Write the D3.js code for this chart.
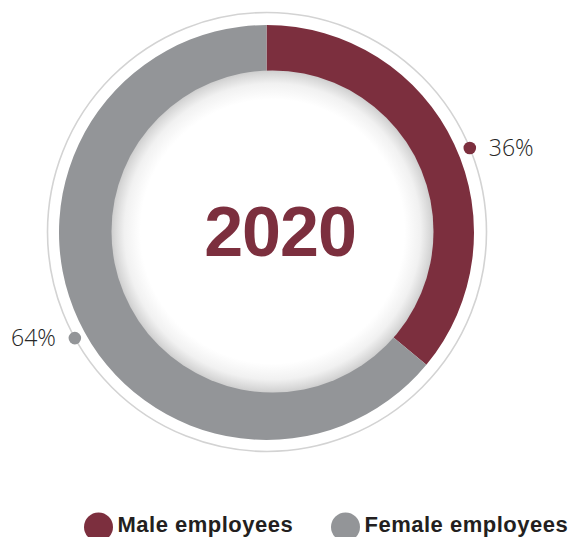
<!DOCTYPE html>
<html>
<head>
<meta charset="utf-8">
<script src="https://cdn.jsdelivr.net/npm/d3@7"></script>
<style>
  html, body { margin: 0; padding: 0; background: #fff; }
  svg { display: block; }
</style>
</head>
<body>
<svg id="chart" width="570" height="537"></svg>
<script>
// Workforce split by gender
const year = "2020";
const categories = ["Male employees", "Female employees"];
const shares = [36, 64];
const colors = ["#7c2f3e", "#939598"];

const svg = d3.select("#chart");
const cx = 266.5, cy = 232.5;
const outerR = 207.5, innerR = 150;
const ringR = 219.5;

const defs = svg.append("defs");
const grad = defs.append("radialGradient").attr("id", "diskShade")
  .attr("cx", "50%").attr("cy", "50%").attr("r", "50%");
grad.append("stop").attr("offset", "0%").attr("stop-color", "#ffffff");
grad.append("stop").attr("offset", "82%").attr("stop-color", "#ffffff");
grad.append("stop").attr("offset", "92%").attr("stop-color", "#f1f1f1");
grad.append("stop").attr("offset", "98%").attr("stop-color", "#d8d8d8");
grad.append("stop").attr("offset", "100%").attr("stop-color", "#cecece");

const pie = d3.pie().sort(null).value(d => d)(shares);
const arc = d3.arc().innerRadius(innerR).outerRadius(outerR);

const g = svg.append("g").attr("transform", `translate(${cx},${cy})`);

// thin outer ring
svg.append("circle")
  .attr("cx", cx + 0.5).attr("cy", cy - 0.5).attr("r", ringR)
  .attr("fill", "none").attr("stroke", "#d3d3d3").attr("stroke-width", 1.6);

g.selectAll("path.slice").data(pie).join("path")
  .attr("class", "slice")
  .attr("d", arc)
  .attr("fill", (d, i) => colors[i]);

// raised white disk in the middle
svg.append("circle")
  .attr("cx", cx + 6).attr("cy", cy - 1).attr("r", 161)
  .attr("fill", "url(#diskShade)");

svg.append("text")
  .attr("x", 280).attr("y", 256)
  .attr("text-anchor", "middle")
  .attr("font-family", "'Liberation Sans', Arial, sans-serif")
  .attr("font-weight", "bold")
  .attr("font-size", 70)
  .attr("letter-spacing", -1)
  .attr("fill", colors[0])
  .text(year);

// value markers on the ring
const nudge = [2.7, -3.7];
const markers = pie.map((d, i) => {
  const a = ((d.startAngle + d.endAngle) / 2) + nudge[i] * Math.PI / 180;
  return {
    x: cx + 0.5 + ringR * Math.sin(a),
    y: cy - 0.5 - ringR * Math.cos(a),
    side: Math.sin(a) >= 0 ? 1 : -1,
    i
  };
});

svg.selectAll("circle.marker").data(markers).join("circle")
  .attr("class", "marker")
  .attr("cx", d => d.x).attr("cy", d => d.y).attr("r", 6.3)
  .attr("fill", d => colors[d.i]);

svg.selectAll("text.pct").data(markers).join("text")
  .attr("class", "pct")
  .attr("x", d => d.x + d.side * 19)
  .attr("y", d => d.y + 7.5)
  .attr("text-anchor", d => d.side > 0 ? "start" : "end")
  .attr("font-family", "'Open Sans', 'Liberation Sans', sans-serif")
  .attr("font-weight", 300)
  .attr("font-size", 23)
  .attr("fill", "#262626")
  .text(d => shares[d.i] + "%");

// legend
const legendX = [98.5, 345.5];
const lg = svg.selectAll("g.legend").data(categories).join("g")
  .attr("class", "legend")
  .attr("transform", (d, i) => `translate(${legendX[i]},527)`);
lg.append("circle").attr("r", 14.5).attr("fill", (d, i) => colors[i]);
lg.append("text")
  .attr("x", 19).attr("y", 4.8)
  .attr("font-family", "'Liberation Sans', Arial, sans-serif")
  .attr("font-weight", "bold")
  .attr("font-size", 22)
  .attr("letter-spacing", 0.5)
  .attr("fill", "#231f20")
  .text(d => d);
</script>
</body>
</html>
